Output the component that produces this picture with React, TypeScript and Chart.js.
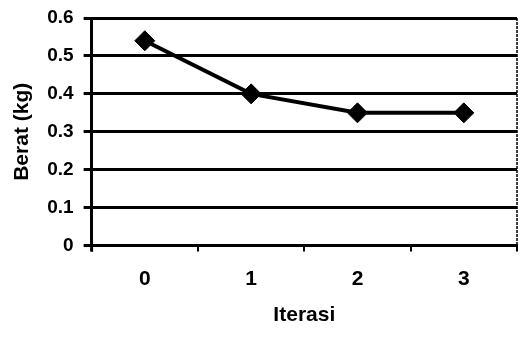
import React, { useEffect, useRef } from "react";
import { Chart, registerables } from "chart.js";

Chart.register(...registerables);

const categories = ["0", "1", "2", "3"];
const beratValues = [0.54, 0.4, 0.35, 0.35];
const yTicks = [0, 0.1, 0.2, 0.3, 0.4, 0.5, 0.6];

const FONT = "'Liberation Sans', Arial, sans-serif";

const frameLines = {
  id: "frameLines",
  afterDraw(chart: any) {
    const { ctx, chartArea } = chart;
    ctx.save();
    ctx.strokeStyle = "#000";
    ctx.lineWidth = 1.5;
    ctx.setLineDash([3, 1]);
    ctx.beginPath();
    ctx.moveTo(chartArea.right, chartArea.top);
    ctx.lineTo(chartArea.right, chartArea.bottom + 2);
    ctx.stroke();
    ctx.setLineDash([]);
    ctx.lineWidth = 3;
    ctx.beginPath();
    ctx.moveTo(chartArea.left, chartArea.bottom);
    ctx.lineTo(chartArea.left, chartArea.bottom + 6);
    ctx.stroke();
    ctx.restore();
  },
};

export default function App() {
  const ref = useRef<HTMLCanvasElement | null>(null);
  useEffect(() => {
    if (!ref.current) return;
    const chart = new Chart(ref.current, {
      type: "line",
      data: {
        labels: categories,
        datasets: [
          {
            data: beratValues,
            borderColor: "#000",
            backgroundColor: "#000",
            borderWidth: 4,
            pointStyle: "rectRot",
            pointRadius: 10,
            pointBorderWidth: 1,
            pointBackgroundColor: "#000",
            pointBorderColor: "#000",
            tension: 0,
          },
        ],
      },
      options: {
        animation: false,
        responsive: false,
        maintainAspectRatio: false,
        layout: { autoPadding: false, padding: { top: 18, right: 5, bottom: 18, left: 10 } },
        plugins: { legend: { display: false }, tooltip: { enabled: false } },
        scales: {
          x: {
            type: "category",
            offset: true,
            afterFit: (s: any) => {
              s.paddingLeft = 0;
              s.paddingRight = 0;
            },
            grid: { offset: true, drawOnChartArea: false, drawTicks: true, tickLength: 6, color: "#000", lineWidth: 2 },
            border: { color: "#000", width: 3 },
            ticks: { color: "#000", font: { family: FONT, size: 21, weight: "bold" }, padding: 15 },
            title: { display: true, text: "Iterasi", color: "#000", font: { family: FONT, size: 21, weight: "bold" }, padding: { top: -4, bottom: 0 } },
          },
          y: {
            min: 0,
            max: 0.6,
            afterFit: (s: any) => {
              s.paddingTop = 0;
              s.paddingBottom = 0;
            },
            afterBuildTicks: (s: any) => {
              s.ticks = yTicks.map((v) => ({ value: v }));
            },
            grid: { color: "#000", lineWidth: 3, tickLength: 8 },
            border: { color: "#000", width: 3 },
            ticks: {
              color: "#000",
              font: { family: FONT, size: 19, weight: "bold" },
              padding: 10,
              callback: (v: any) => String(Number(v)),
            },
            title: { display: true, text: "Berat (kg)", color: "#000", font: { family: FONT, size: 21, weight: "bold" }, padding: { top: 0, bottom: 2 } },
          },
        },
      },
      plugins: [frameLines],
    });
    return () => chart.destroy();
  }, []);
  return (
    <div style={{ position: "fixed", left: 0, top: 0, width: 522, height: 346, background: "#fff" }}>
      <canvas ref={ref} width={522} height={346} style={{ width: 522, height: 346 }} />
    </div>
  );
}
